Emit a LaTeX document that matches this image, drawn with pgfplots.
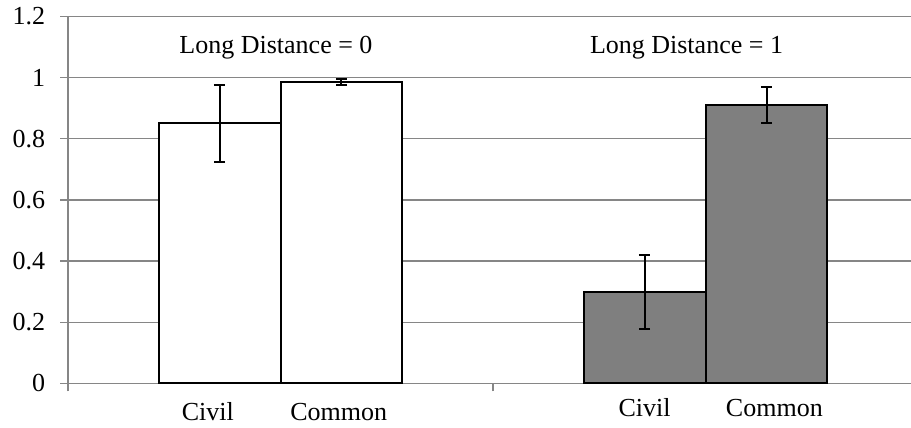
\documentclass[border=0pt]{standalone}
\usepackage{pgfplots}
\pgfplotsset{compat=1.18}
\usepackage{fontspec}
\setmainfont{Liberation Serif}
\definecolor{gridgray}{RGB}{134,134,134}
\definecolor{barfill}{RGB}{127,127,127}
\begin{document}
\fontsize{26}{31}\selectfont
\begin{tikzpicture}
\begin{axis}[
  scale only axis,
  width=843pt, height=366.8pt,
  xmin=-0.5, xmax=1.4835,
  ymin=0, ymax=1.2,
  ytick={0,0.2,0.4,0.6,0.8,1,1.2},
  yticklabels={0,0.2,0.4,0.6,0.8,1,1.2},
  xtick={-0.5,0.5},
  xticklabels={},
  axis x line*=bottom,
  axis y line*=left,
  axis line style={-, gridgray, line width=1.3pt},
  ymajorgrids,
  grid style={gridgray, line width=1.3pt},
  tick style={gridgray, line width=1.3pt},
  major tick length=8pt,
  tick align=outside,
  yticklabel style={xshift=-6pt},
  /pgf/number format/assume math mode=true,
  clip=false,
  ybar, bar width=0.287, bar shift=0pt,
]
\addplot[fill=white, draw=black, line width=2pt,
  error bars/.cd, y dir=both, y explicit,
  error bar style={black, line width=2pt},
  error mark options={black, line width=2pt, mark size=5.7pt, rotate=90}]
  table[x=x, y=y, y error=e] {
x y e
-0.1435 0.851 0.1255
0.1435 0.985 0.010
};
\addplot[fill=barfill, draw=black, line width=2pt,
  error bars/.cd, y dir=both, y explicit,
  error bar style={black, line width=2pt},
  error mark options={black, line width=2pt, mark size=5.7pt, rotate=90}]
  table[x=x, y=y, y error=e] {
x y e
0.8565 0.299 0.120
1.1435 0.911 0.058
};
\node[anchor=base] at (axis cs:-0.0106,1.0774) {Long Distance = 0};
\node[anchor=base] at (axis cs:0.9553,1.0774) {Long Distance = 1};
\node[anchor=base] at (axis cs:-0.171,-0.123) {Civil};
\node[anchor=base] at (axis cs:0.137,-0.123) {Common};
\node[anchor=base] at (axis cs:0.8565,-0.107) {Civil};
\node[anchor=base] at (axis cs:1.162,-0.107) {Common};
\end{axis}
\path (current axis.south west) ++(-68pt,-44.7pt) coordinate (bbA) ++(911pt,428pt) coordinate (bbB);
\pgfresetboundingbox
\path[use as bounding box] (bbA) rectangle (bbB);
\end{tikzpicture}
\end{document}
